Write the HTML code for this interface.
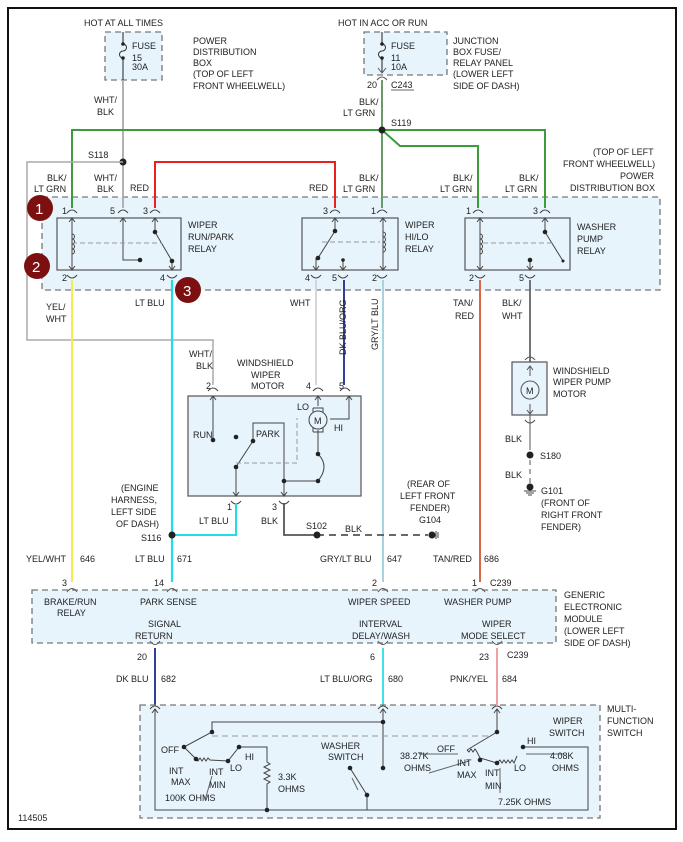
<!DOCTYPE html>
<html><head><meta charset="utf-8"><style>
html,body{margin:0;padding:0;background:#fff;width:683px;height:842px;overflow:hidden}
svg{display:block}
text{font-family:"Liberation Sans",sans-serif;font-size:9px;fill:#222}
.b{fill:#e7f4fc;stroke:#777;stroke-width:1.3;stroke-dasharray:6,4}
.r{fill:#e7f4fc;stroke:#555;stroke-width:1.2}
.k{stroke:#444;stroke-width:1.2;fill:none}
.d{fill:#222}
.c{fill:none;stroke:#555;stroke-width:1}
</style></head><body>
<svg width="683" height="842" viewBox="0 0 683 842" xmlns="http://www.w3.org/2000/svg">
<rect x="0" y="0" width="683" height="842" fill="#fff"/>
<rect x="8" y="8" width="668" height="821" fill="none" stroke="#111" stroke-width="2"/>

<!-- fuse boxes -->
<rect class="b" x="105" y="32" width="57" height="48"/>
<rect class="b" x="364" y="32" width="83" height="43"/>
<text x="84" y="26">HOT AT ALL TIMES</text>
<text x="338" y="26">HOT IN ACC OR RUN</text>
<text x="132" y="49">FUSE</text><text x="132" y="61">15</text><text x="132" y="70">30A</text>
<text x="193" y="44">POWER</text><text x="193" y="55">DISTRIBUTION</text><text x="193" y="66">BOX</text><text x="193" y="77">(TOP OF LEFT</text><text x="193" y="89">FRONT WHEELWELL)</text>
<text x="391" y="49">FUSE</text><text x="391" y="61">11</text><text x="391" y="70">10A</text>
<text x="453" y="44">JUNCTION</text><text x="453" y="55">BOX FUSE/</text><text x="453" y="66">RELAY PANEL</text><text x="453" y="77">(LOWER LEFT</text><text x="453" y="89">SIDE OF DASH)</text>
<text x="367" y="88">20</text><text x="391" y="88">C243</text><line x1="391" y1="90" x2="414" y2="90" stroke="#333" stroke-width="0.7"/>
<path class="k" d="M123 32V44M123 58V80" stroke="#999"/>
<path d="M123 44a3.5 3.5 0 0 1 0 7a3.5 3.5 0 0 0 0 7" fill="none" stroke="#333"/>
<circle class="d" cx="123" cy="44" r="1.8"/><circle class="d" cx="123" cy="58" r="1.8"/>
<path class="k" d="M382 32V44M382 58V72"/>
<path d="M382 44a3.5 3.5 0 0 1 0 7a3.5 3.5 0 0 0 0 7" fill="none" stroke="#333"/>
<circle class="d" cx="382" cy="44" r="1.8"/><circle class="d" cx="382" cy="58" r="1.8"/>
<path class="c" d="M378 68L382 73L386 68M377 80Q382 74 387 80"/>

<!-- PDB box -->
<rect class="b" x="42" y="197" width="618" height="93"/>
<text x="593" y="155">(TOP OF LEFT</text><text x="563" y="167">FRONT WHEELWELL)</text><text x="620" y="179">POWER</text><text x="570" y="191">DISTRIBUTION BOX</text>

<!-- wires top -->
<line x1="123" y1="80" x2="123" y2="208" stroke="#aaa" stroke-width="1.8"/>
<path d="M382 80V208" stroke="#6a9a6a" stroke-width="2" fill="none"/>
<path d="M72 208V130H545V208" stroke="#3c9c3c" stroke-width="2" fill="none"/>
<path d="M382 130L400 146H478V208" stroke="#3c9c3c" stroke-width="2" fill="none"/>
<circle class="d" cx="382" cy="130" r="3.5"/><text x="391" y="126">S119</text>
<text x="359" y="105">BLK/</text><text x="343" y="116">LT GRN</text>
<text x="94" y="103">WHT/</text><text x="97" y="115">BLK</text>
<circle class="d" cx="123" cy="162" r="3.5"/><text x="88" y="158">S118</text>
<path d="M123 162H27V340H213V385" stroke="#aaa" stroke-width="1.5" fill="none"/>
<path d="M155 208V162H335V208" stroke="#e82020" stroke-width="2" fill="none"/>
<text x="47" y="181">BLK/</text><text x="34" y="192">LT GRN</text>
<text x="94" y="181">WHT/</text><text x="97" y="192">BLK</text>
<text x="130" y="191">RED</text>
<text x="309" y="191">RED</text>
<text x="359" y="181">BLK/</text><text x="343" y="192">LT GRN</text>
<text x="453" y="181">BLK/</text><text x="440" y="192">LT GRN</text>
<text x="519" y="181">BLK/</text><text x="505" y="192">LT GRN</text>

<!-- relays -->
<rect class="r" x="57" y="218" width="124" height="52"/>
<rect class="r" x="302" y="218" width="96" height="52"/>
<rect class="r" x="465" y="218" width="105" height="52"/>
<text x="188" y="228">WIPER</text><text x="188" y="240">RUN/PARK</text><text x="188" y="252">RELAY</text>
<text x="405" y="228">WIPER</text><text x="405" y="240">HI/LO</text><text x="405" y="252">RELAY</text>
<text x="577" y="230">WASHER</text><text x="577" y="242">PUMP</text><text x="577" y="254">RELAY</text>
<g fill="none" stroke="#444" stroke-width="1">
<!-- top pin connectors -->
<path d="M67 213Q72 207 77 213M118 213Q123 207 128 213M150 213Q155 207 160 213M330 213Q335 207 340 213M377 213Q382 207 387 213M473 213Q478 207 483 213M540 213Q545 207 550 213"/>
<path d="M67 275Q72 281 77 275M167 275Q172 281 177 275M311 275Q316 281 321 275M338 275Q343 281 348 275M377 275Q382 281 387 275M475 275Q480 281 485 275M525 275Q530 281 535 275"/>
<!-- relay1 internals -->
<path d="M72 218V270M69 222L72 218L75 222M69 266L72 270L75 266"/>
<path d="M72 234a2.5 2.5 0 0 1 0 5a2.5 2.5 0 0 1 0 5a2.5 2.5 0 0 1 0 5a2.5 2.5 0 0 1 0 5"/>
<path d="M123 218V260H140M120 222L123 218L126 222"/>
<path d="M155 218V232L172 261V270M152 222L155 218L158 222M169 266L172 270L175 266"/>
<path d="M72 243H162" stroke="#999" stroke-dasharray="5,3"/>
<!-- relay2 -->
<path d="M335 218V231L318 258M332 222L335 218L338 222M316 258V270M313 266L316 270L319 266"/>
<path d="M343 260V270M340 266L343 270L346 266"/>
<path d="M383 218V270M380 222L383 218L386 222M380 266L383 270L386 266"/>
<path d="M383 232a2.5 2.5 0 0 1 0 5a2.5 2.5 0 0 1 0 5a2.5 2.5 0 0 1 0 5a2.5 2.5 0 0 1 0 5"/>
<path d="M322 242H380" stroke="#999" stroke-dasharray="5,3"/>
<!-- relay3 -->
<path d="M480 218V270M477 222L480 218L483 222M477 266L480 270L483 266"/>
<path d="M480 234a2.5 2.5 0 0 1 0 5a2.5 2.5 0 0 1 0 5a2.5 2.5 0 0 1 0 5a2.5 2.5 0 0 1 0 5"/>
<path d="M545 218V232L563 261M542 222L545 218L548 222"/>
<path d="M530 260V270M527 266L530 270L533 266"/>
<path d="M483 243H552" stroke="#999" stroke-dasharray="5,3"/>
</g>
<g class="d">
<circle cx="140" cy="260" r="2.3"/><circle cx="155" cy="232" r="2.3"/><circle cx="172" cy="261" r="2.3"/>
<circle cx="335" cy="231" r="2.3"/><circle cx="318" cy="258" r="2.3"/><circle cx="343" cy="260" r="1.8"/>
<circle cx="545" cy="232" r="2.3"/><circle cx="563" cy="261" r="1.5"/><circle cx="530" cy="260" r="2.3"/>
</g>
<text x="62" y="214">1</text><text x="110" y="214">5</text><text x="143" y="214">3</text>
<text x="323" y="214">3</text><text x="371" y="214">1</text>
<text x="466" y="214">1</text><text x="533" y="214">3</text>
<text x="62" y="281">2</text><text x="160" y="281">4</text><text x="305" y="281">4</text><text x="332" y="281">5</text><text x="372" y="281">2</text>
<text x="469" y="281">2</text><text x="519" y="281">5</text>

<!-- markers -->
<g><circle cx="40" cy="208" r="13" fill="#7c1010"/><text x="35" y="214" style="font-size:15px;fill:#fff">1</text>
<circle cx="37" cy="266" r="13" fill="#7c1010"/><text x="32" y="272" style="font-size:15px;fill:#fff">2</text>
<circle cx="188" cy="290" r="13" fill="#7c1010"/><text x="183" y="296" style="font-size:15px;fill:#fff">3</text></g>

<!-- vertical wires -->
<line x1="72" y1="280" x2="72" y2="582" stroke="#f0ee50" stroke-width="2"/>
<line x1="172" y1="280" x2="172" y2="582" stroke="#22dcea" stroke-width="2.2"/>
<line x1="316" y1="280" x2="316" y2="385" stroke="#d6d6d6" stroke-width="2"/>
<line x1="344" y1="280" x2="344" y2="385" stroke="#1a2a8a" stroke-width="1.8"/>
<line x1="383" y1="280" x2="383" y2="582" stroke="#a8d4de" stroke-width="2"/>
<line x1="480" y1="280" x2="480" y2="582" stroke="#d86848" stroke-width="2"/>
<line x1="530" y1="280" x2="530" y2="362" stroke="#666" stroke-width="1.8"/>
<text x="46" y="310">YEL/</text><text x="46" y="322">WHT</text>
<text x="135" y="306">LT BLU</text>
<text x="290" y="306">WHT</text>
<text x="0" y="0" transform="translate(346,355) rotate(-90)">DK BLU/ORG</text>
<text x="0" y="0" transform="translate(378,350) rotate(-90)">GRY/LT BLU</text>
<text x="453" y="306">TAN/</text><text x="455" y="319">RED</text>
<text x="502" y="306">BLK/</text><text x="502" y="319">WHT</text>

<!-- wiper motor -->
<rect class="r" x="188" y="396" width="173" height="100"/>
<text x="189" y="357">WHT/</text><text x="196" y="369">BLK</text>
<text x="237" y="366">WINDSHIELD</text><text x="251" y="378">WIPER</text><text x="251" y="389">MOTOR</text>
<text x="206" y="389">2</text><text x="306" y="389">4</text><text x="339" y="389">5</text>
<g fill="none" stroke="#444" stroke-width="1">
<path d="M208 391Q213 385 218 391M313 391Q318 385 323 391M340 391Q345 385 350 391"/>
<path d="M231 501Q236 507 241 501M279 501Q284 507 289 501"/>
<path d="M213 396V440M210 400L213 396L216 400"/>
<path d="M318 396V406M315 400L318 396L321 400"/>
<path d="M349 396V419H330M346 400L349 396L352 400"/>
<circle cx="318" cy="420" r="9"/>
<path d="M313 408H323V412M313 408V412M313 432H323V428M313 432V428"/>
<path d="M318 430V454Q330 466 318 481H284V423H253V441L236 467V496M233 492L236 496L239 492M281 492L284 496L287 492"/>
<path d="M284 481V496"/>
<path d="M236 463H297V418" stroke="#999" stroke-dasharray="5,3"/>
</g>
<text x="314" y="424">M</text>
<text x="297" y="410">LO</text><text x="334" y="431">HI</text>
<text x="193" y="438">RUN</text><text x="256" y="437">PARK</text>
<g class="d"><circle cx="213" cy="440" r="2.3"/><circle cx="236" cy="437" r="2.3"/><circle cx="253" cy="441" r="2.3"/><circle cx="236" cy="467" r="2.3"/><circle cx="284" cy="481" r="2.3"/><circle cx="318" cy="454" r="2.3"/><circle cx="318" cy="481" r="2.3"/></g>
<text x="227" y="510">1</text><text x="272" y="510">3</text>
<text x="199" y="524">LT BLU</text><text x="261" y="524">BLK</text>
<path d="M172 535H236V503" stroke="#22dcea" stroke-width="2" fill="none"/>
<circle class="d" cx="172" cy="535" r="3.5"/><text x="141" y="541">S116</text>
<text x="121" y="491">(ENGINE</text><text x="111" y="503">HARNESS,</text><text x="111" y="515">LEFT SIDE</text><text x="116" y="527">OF DASH)</text>
<path d="M284 503V535H317" stroke="#555" stroke-width="1.8" fill="none"/>
<path d="M317 535H428" stroke="#555" stroke-width="1.8" stroke-dasharray="7,5" fill="none"/>
<circle class="d" cx="317" cy="535" r="3.5"/><text x="306" y="529">S102</text><text x="345" y="532">BLK</text>
<circle class="d" cx="432" cy="535" r="3.5"/><path d="M436 531V539M438 532V538" stroke="#444"/>
<text x="407" y="487">(REAR OF</text><text x="400" y="499">LEFT FRONT</text><text x="410" y="511">FENDER)</text><text x="419" y="523">G104</text>

<!-- pump motor -->
<rect class="r" x="512" y="362" width="35" height="53"/>
<path d="M525 360Q530 354 535 360M525 420Q530 426 535 420" class="c"/>
<path d="M530 366V376M527 370L530 366L533 370M530 404V414M527 410L530 414L533 410M530 414V450" fill="none" stroke="#555"/>
<circle cx="530" cy="390" r="9" fill="none" stroke="#555"/><text x="526" y="394">M</text>
<text x="553" y="374">WINDSHIELD</text><text x="553" y="385">WIPER PUMP</text><text x="553" y="397">MOTOR</text>
<text x="505" y="442">BLK</text><circle class="d" cx="530" cy="455" r="3.5"/><text x="540" y="459">S180</text>
<text x="505" y="478">BLK</text><path d="M530 460V485" stroke="#555" stroke-dasharray="5,4"/>
<circle class="d" cx="530" cy="487" r="3.5"/><path d="M524 491H536M526 493H534M528 495H532" stroke="#444"/>
<text x="541" y="494">G101</text><text x="541" y="506">(FRONT OF</text><text x="541" y="518">RIGHT FRONT</text><text x="541" y="530">FENDER)</text>

<text x="26" y="562">YEL/WHT</text><text x="80" y="562">646</text>
<text x="135" y="562">LT BLU</text><text x="177" y="562">671</text>
<text x="320" y="562">GRY/LT BLU</text><text x="387" y="562">647</text>
<text x="433" y="562">TAN/RED</text><text x="484" y="562">686</text>

<!-- EGM -->
<rect class="b" x="32" y="590" width="524" height="53"/>
<g class="c"><path d="M67 592Q72 585 77 592M167 592Q172 585 177 592M378 592Q383 585 388 592M475 592Q480 585 485 592M150 641Q155 648 160 641M378 641Q383 648 388 641M492 641Q497 648 502 641"/></g>
<text x="62" y="586">3</text><text x="154" y="586">14</text><text x="372" y="586">2</text><text x="472" y="586">1</text><text x="490" y="586">C239</text>
<text x="44" y="605">BRAKE/RUN</text><text x="57" y="616">RELAY</text>
<text x="140" y="605">PARK SENSE</text><text x="348" y="605">WIPER SPEED</text><text x="444" y="605">WASHER PUMP</text>
<text x="148" y="627">SIGNAL</text><text x="135" y="639">RETURN</text>
<text x="359" y="627">INTERVAL</text><text x="352" y="639">DELAY/WASH</text>
<text x="482" y="627">WIPER</text><text x="461" y="639">MODE SELECT</text>
<text x="564" y="598">GENERIC</text><text x="564" y="610">ELECTRONIC</text><text x="564" y="622">MODULE</text><text x="564" y="634">(LOWER LEFT</text><text x="564" y="646">SIDE OF DASH)</text>
<text x="137" y="660">20</text><text x="370" y="660">6</text><text x="479" y="660">23</text><text x="507" y="658">C239</text>
<line x1="155" y1="648" x2="155" y2="705" stroke="#1a2a8a" stroke-width="1.8"/>
<line x1="383" y1="648" x2="383" y2="705" stroke="#40e0e8" stroke-width="2"/>
<line x1="497" y1="648" x2="497" y2="705" stroke="#f0a0a0" stroke-width="2"/>
<text x="116" y="682">DK BLU</text><text x="161" y="682">682</text>
<text x="320" y="682">LT BLU/ORG</text><text x="388" y="682">680</text>
<text x="450" y="682">PNK/YEL</text><text x="502" y="682">684</text>

<!-- MFS -->
<rect class="b" x="140" y="705" width="460" height="113"/>
<text x="607" y="712">MULTI-</text><text x="607" y="724">FUNCTION</text><text x="607" y="736">SWITCH</text>
<g fill="none" stroke="#444" stroke-width="1">
<path d="M150 709Q155 703 160 709M378 709Q383 703 388 709M492 709Q497 703 502 709"/>
<path d="M155 709V810H588V747H523M152 713L155 709L158 713"/>
<path d="M383 709V768M380 713L383 709L386 713M383 722H212V732L184 747"/>
<path d="M212 736H490" stroke="#999" stroke-dasharray="6,4"/>
<path d="M184 747L196 759"/>
<path d="M196 759l2 2l2-3l2 3l2-3l2 3l2-3l2 2L228 761L239 747H267V762l3 2l-6 3l6 3l-6 3l6 3l-6 3l6 3l-3 2V810"/>
<path d="M350 768L367 795V810"/>
<path d="M497 709V732L467 750M494 713L497 709L500 713"/>
<path d="M467 750l2 2l2-3l2 3l2-3l2 3l3 6L497 763l3-3l2 3l2-3l2 3l2-3l2 3l2-3l2 3l3-7"/>
<path d="M212 776L205 800M352 778L358 790M419 754H458M429 773L469 761" stroke="#666"/>
<path d="M564 754H526M500 793V768" stroke="#666"/>
</g>
<g class="d">
<circle cx="383" cy="722" r="2.3"/><circle cx="212" cy="732" r="2.3"/><circle cx="184" cy="747" r="2.3"/>
<circle cx="196" cy="759" r="2.3"/><circle cx="228" cy="761" r="2.3"/><circle cx="239" cy="747" r="2.3"/>
<circle cx="267" cy="810" r="2.3"/><circle cx="383" cy="768" r="2.3"/><circle cx="350" cy="768" r="2.3"/><circle cx="367" cy="795" r="2.3"/>
<circle cx="497" cy="732" r="2.3"/><circle cx="480" cy="760" r="2.3"/><circle cx="497" cy="763" r="2.3"/><circle cx="523" cy="747" r="2.3"/>
</g>
<text x="161" y="753">OFF</text><text x="169" y="774">INT</text><text x="171" y="785">MAX</text>
<text x="209" y="775">INT</text><text x="209" y="788">MIN</text><text x="230" y="771">LO</text><text x="245" y="760">HI</text>
<text x="165" y="801">100K OHMS</text><text x="278" y="780">3.3K</text><text x="278" y="792">OHMS</text>
<text x="321" y="749">WASHER</text><text x="328" y="760">SWITCH</text>
<text x="553" y="724">WIPER</text><text x="549" y="736">SWITCH</text>
<text x="437" y="752">OFF</text><text x="400" y="759">38.27K</text><text x="404" y="771">OHMS</text>
<text x="457" y="766">INT</text><text x="457" y="778">MAX</text><text x="485" y="776">INT</text><text x="485" y="789">MIN</text>
<text x="514" y="771">LO</text><text x="527" y="744">HI</text>
<text x="550" y="759">4.08K</text><text x="552" y="771">OHMS</text>
<text x="498" y="805">7.25K OHMS</text>
<text x="18" y="821">114505</text>
</svg>
</body></html>
